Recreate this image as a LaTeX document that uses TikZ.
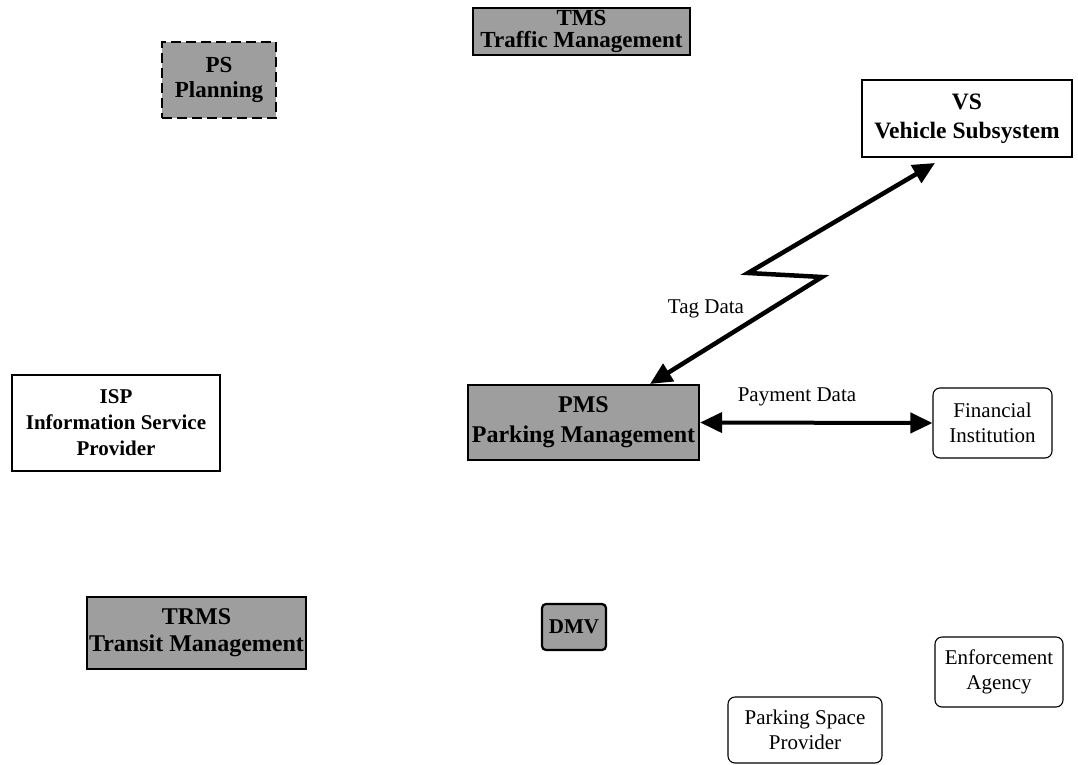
\documentclass[tikz,border=0pt]{standalone}
\usepackage{fontspec}
\setmainfont{Liberation Serif}
\usetikzlibrary{arrows.meta}
\begin{document}
\begin{tikzpicture}[x=1pt,y=-1pt,
  shaded/.style={draw=black,line width=2.2pt,fill=black!38,align=center,
    font=\bfseries\fontsize{24}{28}\selectfont,inner sep=0pt},
  plainbox/.style={draw=black,line width=1.6pt,fill=white,align=center,
    font=\bfseries\fontsize{21}{26}\selectfont,inner sep=0pt},
  extbox/.style={draw=black,line width=1.1pt,rounded corners=7pt,align=center,
    font=\fontsize{21}{25}\selectfont,inner sep=0pt},
  flow/.style={line width=4.5pt,{Triangle[length=22pt,width=20pt]}-{Triangle[length=22pt,width=20pt]}},
  lbl/.style={font=\fontsize{21}{24}\selectfont}]
\useasboundingbox (0,0) rectangle (1078,765);

% subsystems
\node[shaded,line width=2.6pt,dash pattern=on 10pt off 5pt,minimum width=114pt,minimum height=76pt,font=\bfseries\fontsize{23}{25}\selectfont] (ps) at (219,80) {PS\\Planning};
\node[shaded,minimum width=217pt,minimum height=47pt,font=\bfseries\fontsize{23}{22.5}\selectfont] (tms) at (581.5,31.5) {TMS\\Traffic Management};
\node[plainbox,minimum width=210pt,minimum height=77pt,font=\bfseries\fontsize{23.5}{29}\selectfont] (vs) at (967,118.5) {VS\\Vehicle Subsystem};
\node[plainbox,minimum width=208pt,minimum height=96pt] (isp) at (116,423) {ISP\\Information Service\\Provider};
\node[shaded,minimum width=231pt,minimum height=75pt,font=\bfseries\fontsize{24}{30}\selectfont] (pms) at (583.5,422.5) {PMS\\Parking Management};
\node[shaded,minimum width=219pt,minimum height=72pt,font=\bfseries\fontsize{24}{27}\selectfont] (trms) at (196.5,633) {TRMS\\Transit Management};
\node[shaded,minimum width=64pt,minimum height=46pt,rounded corners=4pt,font=\bfseries\fontsize{21}{24}\selectfont] (dmv) at (574,627) {DMV};

% external entities
\node[extbox,minimum width=119pt,minimum height=70pt] (fi) at (992.5,423) {Financial\\Institution};
\node[extbox,minimum width=128pt,minimum height=70pt] (ea) at (999,672) {Enforcement\\Agency};
\node[extbox,minimum width=154pt,minimum height=66pt] (psp) at (805,730) {Parking Space\\Provider};

% wireless tag link
\coordinate (tagA) at (650,384);
\coordinate (zigA) at (822,277);
\coordinate (zigB) at (748,273);
\coordinate (tagB) at (935,163);
\draw[flow,line join=miter] (tagA) -- (zigA) -- (zigB) -- (tagB);
\node[lbl] (tag) at (706,309) {Tag Data};

% payment link
\draw[flow,line width=4pt] (pms.east) -- (fi.west);
\node[lbl] (pay) at (797,397) {Payment Data};
\end{tikzpicture}
\end{document}
